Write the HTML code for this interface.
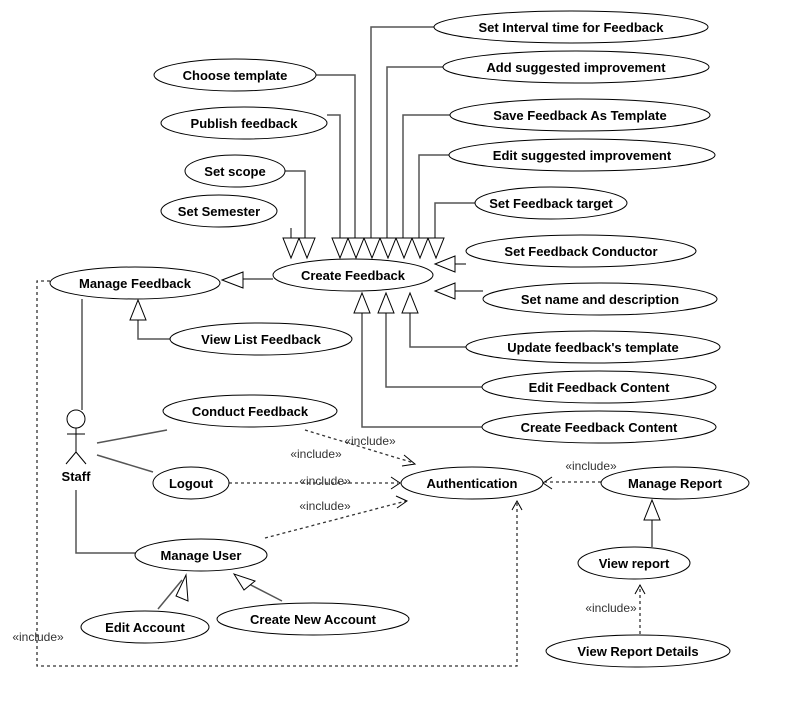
<!DOCTYPE html>
<html><head><meta charset="utf-8"><style>
html,body{margin:0;padding:0;background:#fff}
svg{display:block}
.e{fill:#fff;stroke:#000;stroke-width:1}
.t{font-family:"Liberation Sans",sans-serif;font-size:13px;font-weight:bold;text-anchor:middle;fill:#000}
.l{fill:none;stroke:#555;stroke-width:1.5}
.tr{fill:#fff;stroke:#000;stroke-width:1}
.d{fill:none;stroke:#333;stroke-width:1.3;stroke-dasharray:3,3}
.a{fill:none;stroke:#000;stroke-width:1}
.i{font-family:"Liberation Sans",sans-serif;font-size:12px;fill:#333;text-anchor:middle}
</style></head><body>
<svg width="787" height="708" viewBox="0 0 787 708">
<!-- connectors top -->
<path class="l" d="M315,75H355V238 M327,115H340V238 M285,171H305V238 M291,228V238 M434,27H371V238 M443,67H387V238 M450,115H403V238 M450,155H419V238 M475,203H435V238"/>
<g class="tr">
<polygon points="283,238 299,238 291,258"/><polygon points="299,238 315,238 307,258"/>
<polygon points="332,238 348,238 340,258"/><polygon points="348,238 364,238 356,258"/>
<polygon points="364,238 380,238 372,258"/><polygon points="380,238 396,238 388,258"/>
<polygon points="396,238 412,238 404,258"/><polygon points="412,238 428,238 420,258"/>
<polygon points="428,238 444,238 436,258"/>
</g>
<path class="l" d="M455,264H466 M455,291H483 M273,279H243 M362,313V427H482 M386,313V387H482 M410,313V347H466 M138,320V339H170 M82,299V410 M76,490V553H136 M97,443L167,430 M97,455L153,472 M158,609L182,580 M282,601L245,582 M652,547V520"/>
<g class="tr">
<polygon points="435,264 455,256 455,272"/><polygon points="435,291 455,283 455,299"/>
<polygon points="222,280 243,272 243,288"/>
<polygon points="354,313 370,313 362,293"/><polygon points="378,313 394,313 386,293"/>
<polygon points="402,313 418,313 410,293"/>
<polygon points="130,320 146,320 138,300"/>
<polygon points="644,520 660,520 652,500"/>
<polygon points="186,575 176,596 188,601"/>
<polygon points="234,574 244,590 255,581"/>
</g>
<!-- dashed -->
<path class="d" d="M305,430L414,463 M229,483H398 M265,538L406,501 M601,482H545 M640,634V585 M50,281H37V666H517V502"/>
<path class="a" d="M404,455L415,464L402,466 M391,477L400,483L391,489 M396,496L407,501L397,508 M552,477L543,483L552,489 M635,594L640,585L645,594 M512,510L517,501L522,510"/>
<g class="i">
<text x="370" y="445">«include»</text><text x="316" y="458">«include»</text>
<text x="325" y="485">«include»</text><text x="325" y="510">«include»</text>
<text x="591" y="470">«include»</text><text x="611" y="612">«include»</text>
<text x="38" y="641">«include»</text>
</g>
<!-- actor -->
<circle cx="76" cy="419" r="9" fill="#fff" stroke="#000"/>
<path class="a" d="M76,428V452 M67,434H85 M76,452L66,464 M76,452L86,464"/>
<text class="t" x="76" y="481">Staff</text>
<!-- ellipses -->
<g>
<ellipse class="e" cx="571" cy="27" rx="137" ry="16"/><text class="t" x="571" y="32">Set Interval time for Feedback</text>
<ellipse class="e" cx="235" cy="75" rx="81" ry="16"/><text class="t" x="235" y="80">Choose template</text>
<ellipse class="e" cx="576" cy="67" rx="133" ry="16"/><text class="t" x="576" y="72">Add suggested improvement</text>
<ellipse class="e" cx="244" cy="123" rx="83" ry="16"/><text class="t" x="244" y="128">Publish feedback</text>
<ellipse class="e" cx="580" cy="115" rx="130" ry="16"/><text class="t" x="580" y="120">Save Feedback As Template</text>
<ellipse class="e" cx="582" cy="155" rx="133" ry="16"/><text class="t" x="582" y="160">Edit suggested improvement</text>
<ellipse class="e" cx="235" cy="171" rx="50" ry="16"/><text class="t" x="235" y="176">Set scope</text>
<ellipse class="e" cx="219" cy="211" rx="58" ry="16"/><text class="t" x="219" y="216">Set Semester</text>
<ellipse class="e" cx="551" cy="203" rx="76" ry="16"/><text class="t" x="551" y="208">Set Feedback target</text>
<ellipse class="e" cx="581" cy="251" rx="115" ry="16"/><text class="t" x="581" y="256">Set Feedback Conductor</text>
<ellipse class="e" cx="353" cy="275" rx="80" ry="16"/><text class="t" x="353" y="280">Create Feedback</text>
<ellipse class="e" cx="135" cy="283" rx="85" ry="16"/><text class="t" x="135" y="288">Manage Feedback</text>
<ellipse class="e" cx="600" cy="299" rx="117" ry="16"/><text class="t" x="600" y="304">Set name and description</text>
<ellipse class="e" cx="261" cy="339" rx="91" ry="16"/><text class="t" x="261" y="344">View List Feedback</text>
<ellipse class="e" cx="593" cy="347" rx="127" ry="16"/><text class="t" x="593" y="352">Update feedback's template</text>
<ellipse class="e" cx="599" cy="387" rx="117" ry="16"/><text class="t" x="599" y="392">Edit Feedback Content</text>
<ellipse class="e" cx="250" cy="411" rx="87" ry="16"/><text class="t" x="250" y="416">Conduct Feedback</text>
<ellipse class="e" cx="599" cy="427" rx="117" ry="16"/><text class="t" x="599" y="432">Create Feedback Content</text>
<ellipse class="e" cx="191" cy="483" rx="38" ry="16"/><text class="t" x="191" y="488">Logout</text>
<ellipse class="e" cx="472" cy="483" rx="71" ry="16"/><text class="t" x="472" y="488">Authentication</text>
<ellipse class="e" cx="675" cy="483" rx="74" ry="16"/><text class="t" x="675" y="488">Manage Report</text>
<ellipse class="e" cx="201" cy="555" rx="66" ry="16"/><text class="t" x="201" y="560">Manage User</text>
<ellipse class="e" cx="634" cy="563" rx="56" ry="16"/><text class="t" x="634" y="568">View report</text>
<ellipse class="e" cx="145" cy="627" rx="64" ry="16"/><text class="t" x="145" y="632">Edit Account</text>
<ellipse class="e" cx="313" cy="619" rx="96" ry="16"/><text class="t" x="313" y="624">Create New Account</text>
<ellipse class="e" cx="638" cy="651" rx="92" ry="16"/><text class="t" x="638" y="656">View Report Details</text>
</g>
</svg>
</body></html>
